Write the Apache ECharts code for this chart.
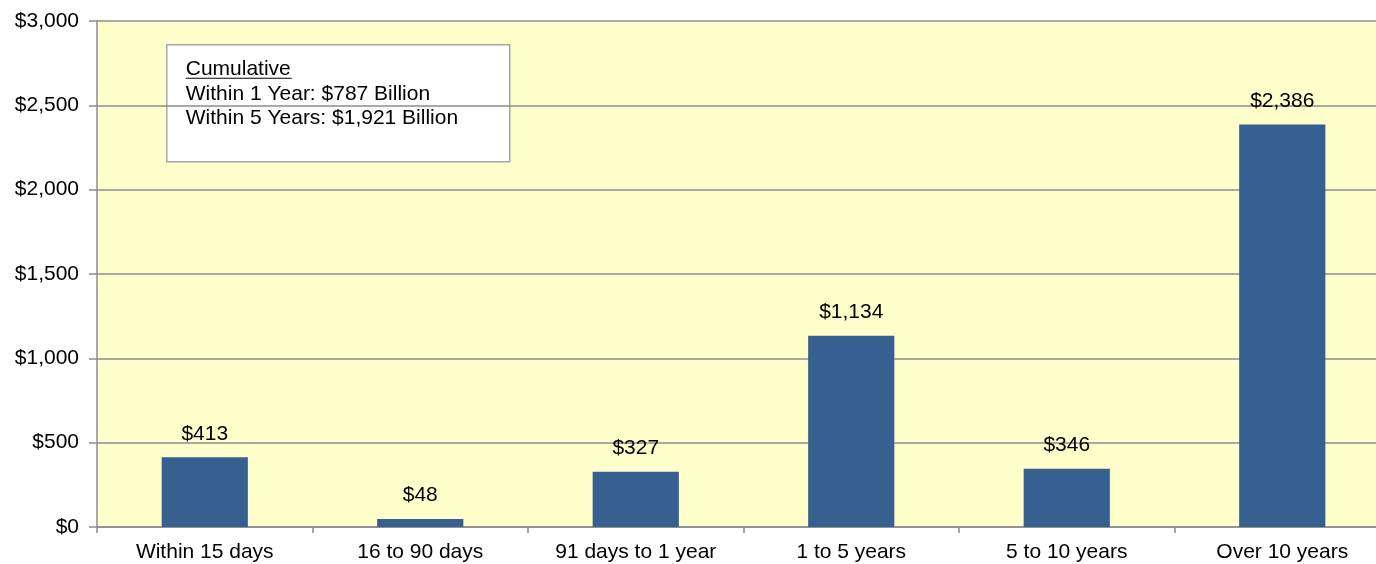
<!DOCTYPE html>
<html>
<head>
<meta charset="utf-8">
<title>Maturity profile</title>
<script src="https://cdn.jsdelivr.net/npm/echarts@6/dist/echarts.min.js"></script>
<style>
  html, body { margin: 0; padding: 0; background: #ffffff; overflow: hidden; }
  /* the plot runs on past the right edge of the window */
  #chart { width: 1390px; height: 564px; }
</style>
</head>
<body>
<div id="chart"></div>
<script>
// Maturity buckets and amounts (billions of dollars)
const categories = ['Within 15 days', '16 to 90 days', '91 days to 1 year', '1 to 5 years', '5 to 10 years', 'Over 10 years'];
const amounts = [413, 48, 327, 1134, 346, 2386];
const yTicks = [0, 500, 1000, 1500, 2000, 2500, 3000];

// Summary box lines
const noteTitle = 'Cumulative';
const noteLines = ['Within 1 Year: $787 Billion', 'Within 5 Years: $1,921 Billion'];

const FONT = '"Liberation Sans", Arial, sans-serif';
const FS = 21;
const GRAY = '#8c8c8c';

function money(v) {
  return '$' + Number(v).toLocaleString('en-US');
}

const chart = echarts.init(document.getElementById('chart'), null, { renderer: 'canvas' });

chart.setOption({
  animation: false,
  backgroundColor: '#ffffff',
  textStyle: { fontFamily: FONT },
  grid: {
    left: 97, top: 21, right: 0, bottom: 37,
    show: true, backgroundColor: '#ffffcc', borderWidth: 0
  },
  xAxis: {
    type: 'category',
    data: categories,
    axisLine: { lineStyle: { color: GRAY, width: 1.5 } },
    axisTick: { show: true, length: 6, alignWithLabel: false, lineStyle: { color: GRAY, width: 1.5 } },
    axisLabel: { color: '#000', fontSize: FS, fontFamily: FONT, margin: 15, interval: 0 }
  },
  yAxis: {
    type: 'value',
    min: yTicks[0],
    max: yTicks[yTicks.length - 1],
    interval: yTicks[1] - yTicks[0],
    axisLine: { show: true, lineStyle: { color: GRAY, width: 1.5 } },
    axisTick: { show: true, length: 8, lineStyle: { color: GRAY, width: 1.5 } },
    splitLine: { show: true, lineStyle: { color: GRAY, width: 1.5 } },
    axisLabel: { color: '#000', fontSize: FS, fontFamily: FONT, margin: 18, formatter: money }
  },
  series: [{
    type: 'bar',
    data: amounts,
    barWidth: '40%',
    itemStyle: { color: '#35608f' },
    label: {
      show: true,
      position: 'top',
      distance: 13,
      color: '#000',
      fontSize: FS,
      fontFamily: FONT,
      formatter: p => money(p.value)
    }
  }],
  graphic: [
    {
      type: 'group',
      left: 166,
      top: 44,
      children: [
        {
          type: 'rect',
          shape: { x: 0, y: 0, width: 343, height: 117 },
          style: { fill: '#ffffff', stroke: '#a6a6a6', lineWidth: 1.5 }
        },
        {
          type: 'text',
          x: 19, y: 14,
          style: { text: noteTitle, font: FS + 'px ' + FONT, fill: '#000' }
        },
        {
          type: 'line',
          shape: { x1: 19, y1: 33.5, x2: 125, y2: 33.5 },
          style: { stroke: '#000', lineWidth: 1.2 }
        },
        {
          type: 'text',
          x: 19, y: 38.5,
          style: { text: noteLines[0], font: FS + 'px ' + FONT, fill: '#000' }
        },
        {
          type: 'text',
          x: 19, y: 63,
          style: { text: noteLines[1], font: FS + 'px ' + FONT, fill: '#000' }
        }
      ]
    }
  ]
});
</script>
</body>
</html>
